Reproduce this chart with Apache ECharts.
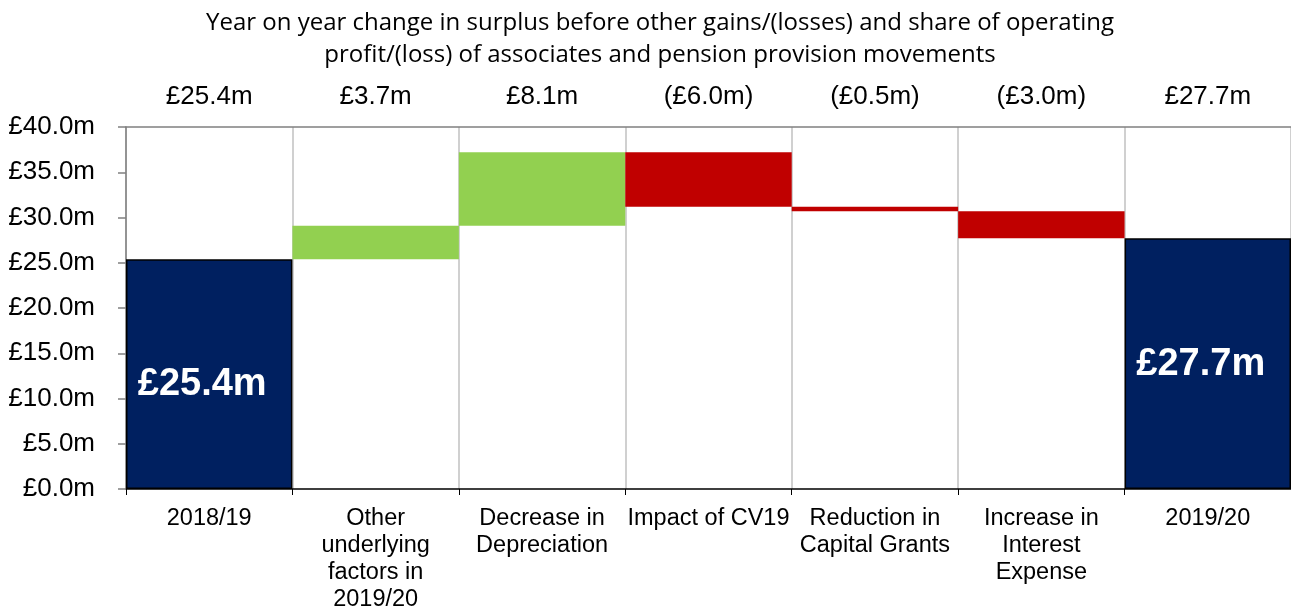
<!DOCTYPE html>
<html>
<head>
<meta charset="utf-8">
<script src="https://cdn.jsdelivr.net/npm/echarts@6/dist/echarts.min.js"></script>
<style>
  html, body { margin: 0; padding: 0; background: #fff; }
  #chart { width: 1291px; height: 613px; }
</style>
</head>
<body>
<div id="chart"></div>
<script>
// waterfall data, £m
const categories = ['2018/19', 'Other\nunderlying\nfactors in\n2019/20', 'Decrease in\nDepreciation',
  'Impact of CV19', 'Reduction in\nCapital Grants', 'Increase in\nInterest\nExpense', '2019/20'];
const startValue = 25.4;
const changes = [3.7, 8.1, -6.0, -0.5, -3.0];
const endValue = 27.7;
const topLabels = ['£25.4m', '£3.7m', '£8.1m', '(£6.0m)', '(£0.5m)', '(£3.0m)', '£27.7m'];

const NAVY = '#002060', GREEN = '#92D050', RED = '#C00000';

// build invisible base + visible block for each step
const baseData = [0];
const blockData = [{ value: startValue, itemStyle: { color: NAVY, borderColor: '#000', borderWidth: 1.5 },
  label: { show: true, offset: [-7, 10] } }];
let running = startValue;
changes.forEach(d => {
  const next = running + d;
  baseData.push(Math.min(running, next));
  blockData.push({ value: Math.abs(d), itemStyle: { color: d >= 0 ? GREEN : RED } });
  running = next;
});
baseData.push(0);
blockData.push({ value: endValue, itemStyle: { color: NAVY, borderColor: '#000', borderWidth: 1.5 },
  label: { show: true, offset: [-7, 1] } });

const chart = echarts.init(document.getElementById('chart'));
chart.setOption({
  animation: false,
  title: {
    text: 'Year on year change in surplus before other gains/(losses) and share of operating\nprofit/(loss) of associates and pension provision movements',
    left: 655, top: 2, textAlign: 'center',
    textStyle: { fontFamily: 'Open Sans', fontSize: 24, fontWeight: 'normal', color: '#000', lineHeight: 32 }
  },
  grid: { left: 126, right: 0, top: 127, bottom: 123 },
  xAxis: [{
    type: 'category',
    data: categories,
    axisLine: { lineStyle: { color: '#000', width: 1.5 } },
    axisTick: { show: true, length: 6, lineStyle: { color: '#000' } },
    splitLine: { show: true, lineStyle: { color: '#c0c0c0', width: 1.5 } },
    axisLabel: { interval: 0, margin: 16, fontFamily: 'Liberation Sans', fontSize: 23.5, color: '#000', lineHeight: 27 }
  }, {
    type: 'category',
    position: 'top',
    data: topLabels,
    axisLine: { lineStyle: { color: '#808080', width: 1.5 } },
    axisTick: { show: false },
    axisLabel: { interval: 0, margin: 17, fontFamily: 'Liberation Sans', fontSize: 26, color: '#000' }
  }],
  yAxis: {
    type: 'value',
    min: 0, max: 40, interval: 5,
    axisLine: { show: true, lineStyle: { color: '#808080', width: 1.5 } },
    axisTick: { show: true, length: 8, lineStyle: { color: '#808080', width: 1.5 } },
    splitLine: { show: false },
    axisLabel: {
      margin: 31, fontFamily: 'Liberation Sans', fontSize: 26, color: '#000',
      formatter: v => '£' + v.toFixed(1) + 'm'
    }
  },
  series: [{
    type: 'bar',
    stack: 'wf',
    data: baseData,
    itemStyle: { color: 'transparent' },
    barWidth: '100%',
    silent: true
  }, {
    type: 'bar',
    stack: 'wf',
    data: blockData,
    barWidth: '100%',
    label: {
      show: false,
      position: 'inside',
      color: '#fff',
      fontFamily: 'Liberation Sans',
      fontWeight: 'bold',
      fontSize: 38,
      formatter: p => '£' + p.value.toFixed(1) + 'm'
    }
  }]
});
</script>
</body>
</html>
